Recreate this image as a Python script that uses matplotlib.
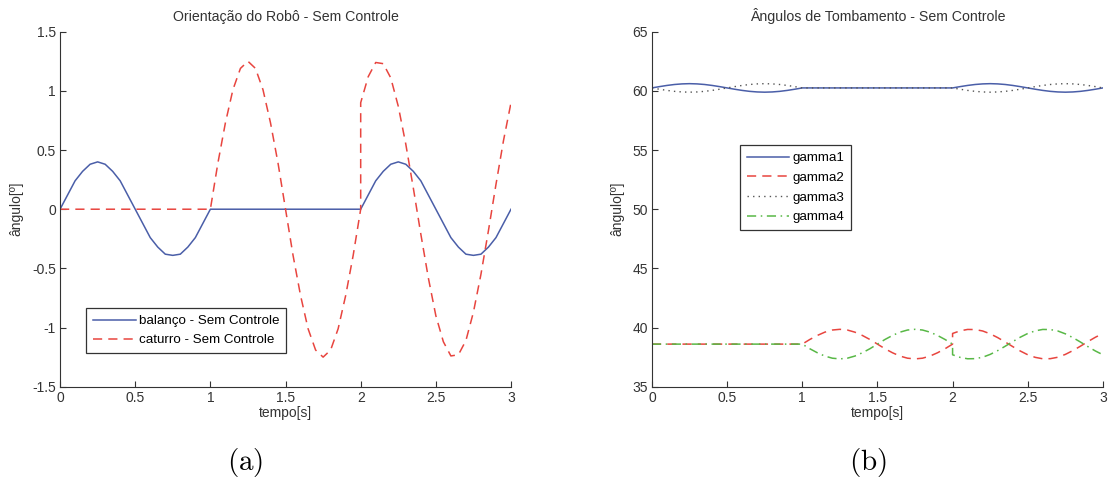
import matplotlib.pyplot as plt

# tempo [s] (2.0 aparece duas vezes por causa do salto)
tempo = [0.0, 0.05, 0.1, 0.15, 0.2, 0.25, 0.3, 0.35, 0.4, 0.45, 0.5, 0.55, 0.6, 0.65, 0.7, 0.75, 0.8, 0.85, 0.9, 0.95, 1.0,
         1.05, 1.1, 1.15, 1.2, 1.25, 1.3, 1.35, 1.4, 1.45, 1.5, 1.55, 1.6, 1.65, 1.7, 1.75, 1.8, 1.85, 1.9, 1.95, 2.0,
         2.0,
         2.05, 2.1, 2.15, 2.2, 2.25, 2.3, 2.35, 2.4, 2.45, 2.5, 2.55, 2.6, 2.65, 2.7, 2.75, 2.8, 2.85, 2.9, 2.95, 3.0]

balanco = [0, 0.12, 0.24, 0.32, 0.38, 0.40, 0.38, 0.32, 0.24, 0.12, 0, -0.12, -0.24, -0.32, -0.38, -0.39, -0.38, -0.32, -0.24, -0.12, 0,
           0, 0, 0, 0, 0, 0, 0, 0, 0, 0, 0, 0, 0, 0, 0, 0, 0, 0, 0, 0,
           0,
           0.12, 0.24, 0.32, 0.38, 0.40, 0.38, 0.32, 0.24, 0.12, 0, -0.12, -0.24, -0.32, -0.38, -0.39, -0.38, -0.32, -0.24, -0.12, 0]

caturro = [0, 0, 0, 0, 0, 0, 0, 0, 0, 0, 0, 0, 0, 0, 0, 0, 0, 0, 0, 0, 0,
           0.39, 0.73, 1.01, 1.19, 1.25, 1.19, 1.01, 0.73, 0.39, 0, -0.39, -0.73, -1.01, -1.19, -1.25, -1.19, -1.01, -0.73, -0.39, 0,
           0.90,
           1.12, 1.24, 1.23, 1.11, 0.87, 0.55, 0.18, -0.21, -0.58, -0.90, -1.12, -1.24, -1.23, -1.11, -0.87, -0.55, -0.18, 0.21, 0.58, 0.90]

gamma1 = [60.25, 60.36, 60.46, 60.54, 60.59, 60.61, 60.59, 60.54, 60.46, 60.36, 60.25, 60.14, 60.04, 59.96, 59.91, 59.89, 59.91, 59.96, 60.04, 60.14, 60.25,
          60.25, 60.25, 60.25, 60.25, 60.25, 60.25, 60.25, 60.25, 60.25, 60.25, 60.25, 60.25, 60.25, 60.25, 60.25, 60.25, 60.25, 60.25, 60.25, 60.25,
          60.25,
          60.36, 60.46, 60.54, 60.59, 60.61, 60.59, 60.54, 60.46, 60.36, 60.25, 60.14, 60.04, 59.96, 59.91, 59.89, 59.91, 59.96, 60.04, 60.14, 60.25]

gamma2 = [38.6, 38.6, 38.6, 38.6, 38.6, 38.6, 38.6, 38.6, 38.6, 38.6, 38.6, 38.6, 38.6, 38.6, 38.6, 38.6, 38.6, 38.6, 38.6, 38.6, 38.6,
          38.99, 39.33, 39.61, 39.79, 39.85, 39.79, 39.61, 39.33, 38.99, 38.60, 38.21, 37.87, 37.59, 37.41, 37.35, 37.41, 37.59, 37.87, 38.21, 38.60,
          39.50,
          39.72, 39.84, 39.83, 39.71, 39.47, 39.15, 38.78, 38.39, 38.02, 37.70, 37.48, 37.36, 37.37, 37.49, 37.73, 38.05, 38.42, 38.81, 39.18, 39.50]

gamma3 = [60.25, 60.14, 60.04, 59.96, 59.91, 59.89, 59.91, 59.96, 60.04, 60.14, 60.25, 60.36, 60.46, 60.54, 60.59, 60.61, 60.59, 60.54, 60.46, 60.36, 60.25,
          60.25, 60.25, 60.25, 60.25, 60.25, 60.25, 60.25, 60.25, 60.25, 60.25, 60.25, 60.25, 60.25, 60.25, 60.25, 60.25, 60.25, 60.25, 60.25, 60.25,
          60.25,
          60.14, 60.04, 59.96, 59.91, 59.89, 59.91, 59.96, 60.04, 60.14, 60.25, 60.36, 60.46, 60.54, 60.59, 60.61, 60.59, 60.54, 60.46, 60.36, 60.25]

gamma4 = [38.6, 38.6, 38.6, 38.6, 38.6, 38.6, 38.6, 38.6, 38.6, 38.6, 38.6, 38.6, 38.6, 38.6, 38.6, 38.6, 38.6, 38.6, 38.6, 38.6, 38.6,
          38.21, 37.87, 37.59, 37.41, 37.35, 37.41, 37.59, 37.87, 38.21, 38.60, 38.99, 39.33, 39.61, 39.79, 39.85, 39.79, 39.61, 39.33, 38.99, 38.60,
          37.70,
          37.48, 37.36, 37.37, 37.49, 37.73, 38.05, 38.42, 38.81, 39.18, 39.50, 39.72, 39.84, 39.83, 39.71, 39.47, 39.15, 38.78, 38.39, 38.02, 37.70]

plt.rcParams['font.family'] = ['Liberation Sans', 'DejaVu Sans']
plt.rcParams['font.size'] = 10
plt.rcParams['mathtext.fontset'] = 'cm'

azul = '#4a5ea8'
vermelho = '#e8453f'
verde = '#58b846'
cinza = '#555555'

fig = plt.figure(figsize=(11.08, 4.82), dpi=100)
ax1 = fig.add_axes([0.0542, 0.1977, 0.407, 0.7365])
ax2 = fig.add_axes([0.5884, 0.1977, 0.407, 0.7365])


def estilo(ax):
    for s in ['top', 'right']:
        ax.spines[s].set_visible(False)
    for s in ['left', 'bottom']:
        ax.spines[s].set_color('#333333')
        ax.spines[s].set_linewidth(0.8)
    ax.tick_params(direction='in', length=4, width=0.8, color='#333333', labelcolor='#333333',
                   labelsize=10, pad=3)
    ax.set_xlim(0, 3)
    ax.set_xticks([0, 0.5, 1, 1.5, 2, 2.5, 3])
    ax.set_xticklabels(['0', '0.5', '1', '1.5', '2', '2.5', '3'])
    ax.set_xlabel('tempo[s]', color='#333333', fontsize=10, labelpad=1)
    ax.set_ylabel('ângulo[º]', color='#333333', fontsize=10, labelpad=6)


# (a) orientação
ax1.plot(tempo, balanco, color=azul, lw=1.1, label='balanço - Sem Controle')
ax1.plot(tempo, caturro, color=vermelho, lw=1.1, ls=(0, (6, 4)), label='caturro - Sem Controle')
estilo(ax1)
ax1.set_ylim(-1.5, 1.5)
ax1.set_yticks([-1.5, -1, -0.5, 0, 0.5, 1, 1.5])
ax1.set_yticklabels(['-1.5', '-1', '-0.5', '0', '0.5', '1', '1.5'])
ax1.set_title('Orientação do Robô - Sem Controle', color='#333333', fontsize=10.2, pad=8)
leg1 = ax1.legend(loc='lower left', bbox_to_anchor=(0.058, 0.095), borderaxespad=0, fancybox=False,
                  framealpha=1, edgecolor='#333333', handlelength=3.2, borderpad=0.5, labelspacing=0.5,
                  handletextpad=0.25, fontsize=9.6)
leg1.get_frame().set_linewidth(0.9)

# (b) tombamento
ax2.plot(tempo, gamma1, color=azul, lw=1.1, label='gamma1')
ax2.plot(tempo, gamma2, color=vermelho, lw=1.1, ls=(0, (6, 4)), label='gamma2')
ax2.plot(tempo, gamma3, color=cinza, lw=1.0, ls=(0, (1, 3)), label='gamma3')
ax2.plot(tempo, gamma4, color=verde, lw=1.1, ls=(0, (6, 3, 1, 3)), label='gamma4')
estilo(ax2)
ax2.set_ylim(35, 65)
ax2.set_yticks([35, 40, 45, 50, 55, 60, 65])
ax2.set_title('Ângulos de Tombamento - Sem Controle', color='#333333', fontsize=10.2, pad=8)
leg2 = ax2.legend(loc='lower left', bbox_to_anchor=(0.195, 0.441), borderaxespad=0, fancybox=False,
                  framealpha=1, edgecolor='#333333', handlelength=3.2, borderpad=0.5, labelspacing=0.55,
                  handletextpad=0.25, fontsize=9.6)
leg2.get_frame().set_linewidth(0.9)

fig.text(0.221, 0.025, r'$\mathrm{(a)}$', fontsize=21, ha='center')
fig.text(0.783, 0.025, r'$\mathrm{(b)}$', fontsize=21, ha='center')

fig.savefig('out.png', dpi=100)
